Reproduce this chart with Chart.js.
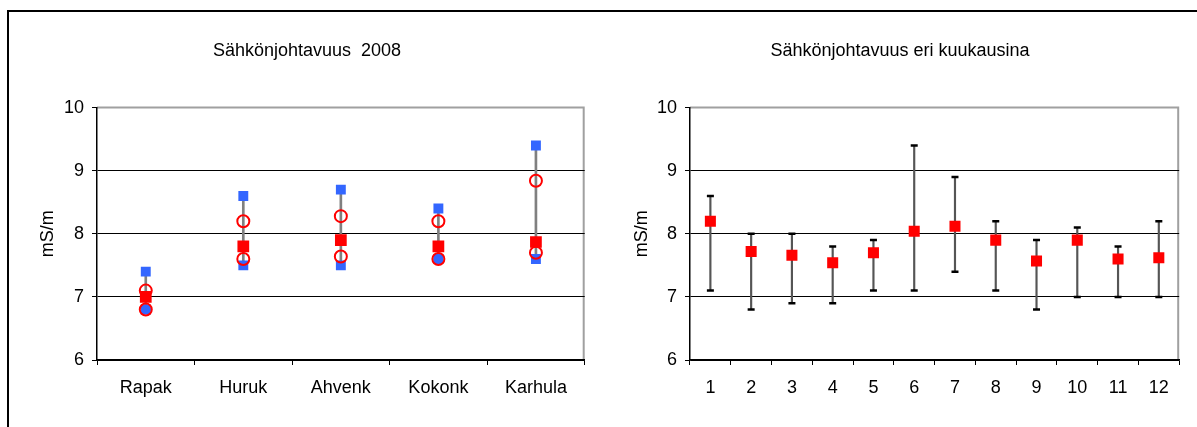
<!DOCTYPE html>
<html>
<head>
<meta charset="utf-8">
<script src="https://cdn.jsdelivr.net/npm/chart.js@4.4.0/dist/chart.umd.min.js"></script>
<style>
  body { margin: 0; background: #fff; width: 1197px; height: 427px; overflow: hidden; position: relative; }
  .frame { position: absolute; left: 7px; top: 10px; width: 1200px; height: 430px; border-left: 2px solid #000; border-top: 2px solid #000; }
  .box { position: absolute; top: 20px; height: 390px; }
</style>
</head>
<body>
<div class="frame"></div>
<div class="box" style="left:21px; width:572px;"><canvas id="siteChart"></canvas></div>
<div class="box" style="left:613px; width:574px;"><canvas id="monthChart"></canvas></div>
<script>
// Sites, 2008
const siteLabels = ['Rapak', 'Huruk', 'Ahvenk', 'Kokonk', 'Karhula'];
const siteMax = [7.4, 8.6, 8.7, 8.4, 9.4];
const siteMin = [6.8, 7.5, 7.5, 7.6, 7.6];
const siteMean = [7.0, 7.8, 7.9, 7.8, 7.87];
const siteUpper = [7.1, 8.2, 8.28, 8.2, 8.84];
const siteLower = [6.8, 7.6, 7.64, 7.6, 7.7];
const siteMedian = [6.8, null, null, 7.6, null];

// Months
const monthLabels = ['1', '2', '3', '4', '5', '6', '7', '8', '9', '10', '11', '12'];
const monthMean = [8.2, 7.72, 7.66, 7.54, 7.7, 8.04, 8.12, 7.9, 7.57, 7.9, 7.6, 7.62];
const monthMax = [8.6, 8.0, 8.0, 7.8, 7.9, 9.4, 8.9, 8.2, 7.9, 8.1, 7.8, 8.2];
const monthMin = [7.1, 6.8, 6.9, 6.9, 7.1, 7.1, 7.4, 7.1, 6.8, 7.0, 7.0, 7.0];

const yTicks = [6, 7, 8, 9, 10];

const FONT = 'Liberation Sans, Arial, sans-serif';
const RED = '#ff0000';
const BLUE = '#3366ff';

// gray frame on top and right of the plot area
const framePlugin = {
    id: 'frame',
    beforeDraw(chart) {
        const a = chart.chartArea;
        const ctx = chart.ctx;
        ctx.save();
        ctx.strokeStyle = '#a0a0a0';
        ctx.lineWidth = 2;
        ctx.beginPath();
        ctx.moveTo(a.left, a.top);
        ctx.lineTo(a.right - 1, a.top);
        ctx.lineTo(a.right - 1, a.bottom);
        ctx.stroke();
        ctx.restore();
    }
};

function points(data, style, radius, color, filled, order) {
    return {
        type: 'line',
        data: data,
        showLine: false,
        pointStyle: style,
        pointRadius: radius,
        pointHoverRadius: radius,
        pointBackgroundColor: filled ? color : 'rgba(0,0,0,0)',
        pointBorderColor: color,
        pointBorderWidth: filled ? 0 : 2,
        order: order
    };
}

function makeOptions(titleText, yWidth, yTitlePad) {
    return {
        responsive: true,
        maintainAspectRatio: false,
        animation: false,
        layout: { padding: 0 },
        plugins: {
            legend: { display: false },
            tooltip: { enabled: false },
            title: {
                display: true,
                text: titleText,
                color: '#000',
                font: { family: FONT, size: 18, weight: 'normal' },
                padding: { top: 20, bottom: 46 }
            }
        },
        scales: {
            x: {
                offset: true,
                grid: { drawOnChartArea: false, drawTicks: true, tickLength: 5, offset: true, color: '#000', tickColor: '#000' },
                border: { color: '#000', width: 1.5 },
                ticks: { color: '#000', padding: 12, font: { family: FONT, size: 18 } },
                afterFit(scale) { scale.height = 50; }
            },
            y: {
                min: yTicks[0],
                max: yTicks[yTicks.length - 1],
                ticks: { stepSize: 1, color: '#000', padding: 8, font: { family: FONT, size: 18 } },
                grid: {
                    color: ctx => (ctx.tick && ctx.tick.value === 10) ? 'rgba(0,0,0,0)' : '#000',
                    tickColor: '#000',
                    tickLength: 5,
                    lineWidth: 1
                },
                border: { color: '#000', width: 1.5 },
                title: {
                    display: true,
                    text: 'mS/m',
                    color: '#000',
                    font: { family: FONT, size: 18 },
                    padding: { top: yTitlePad, bottom: 0 }
                },
                afterFit(scale) { scale.width = yWidth; }
            }
        }
    };
}

new Chart(document.getElementById('siteChart'), {
    type: 'bar',
    data: {
        labels: siteLabels,
        datasets: [
            points(siteLower, 'circle', 6, RED, false, 1),
            points(siteUpper, 'circle', 6, RED, false, 1),
            points(siteMean, 'rect', 8.3, RED, true, 2),
            points(siteMedian, 'circle', 5, BLUE, true, 3),
            points(siteMax, 'rect', 7, BLUE, true, 4),
            points(siteMin, 'rect', 7, BLUE, true, 4),
            {
                type: 'bar',
                data: siteMin.map((v, i) => [v, siteMax[i]]),
                backgroundColor: '#808080',
                barThickness: 2,
                order: 5
            }
        ]
    },
    options: makeOptions('Sähkönjohtavuus  2008', 76, 16),
    plugins: [framePlugin]
});

new Chart(document.getElementById('monthChart'), {
    type: 'bar',
    data: {
        labels: monthLabels,
        datasets: [
            points(monthMean, 'rect', 7.8, RED, true, 1),
            Object.assign(points(monthMax, 'line', 3.5, '#000', false, 2), { pointBorderWidth: 2.5 }),
            Object.assign(points(monthMin, 'line', 3.5, '#000', false, 2), { pointBorderWidth: 2.5 }),
            {
                type: 'bar',
                data: monthMin.map((v, i) => [v, monthMax[i]]),
                backgroundColor: '#555',
                barThickness: 1.5,
                order: 3
            }
        ]
    },
    options: makeOptions('Sähkönjohtavuus eri kuukausina', 77, 18),
    plugins: [framePlugin]
});
</script>
</body>
</html>
